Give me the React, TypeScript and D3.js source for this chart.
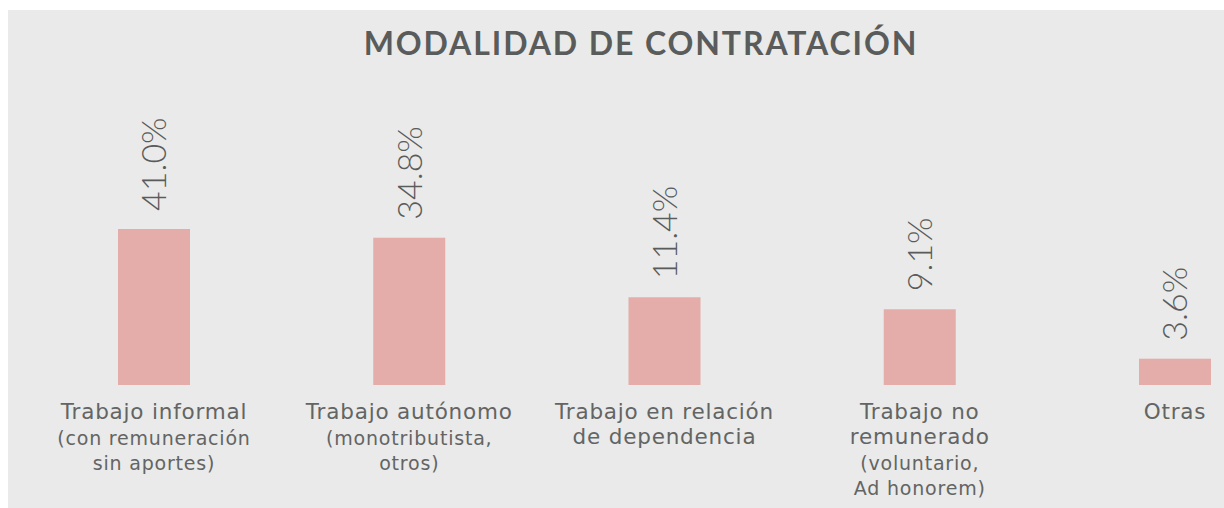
import React from 'react';
import * as d3 from 'd3';

// chart data
const categories = ['informal', 'autonomo', 'dependencia', 'noRemunerado', 'otras'];
const values = [41.0, 34.8, 11.4, 9.1, 3.6];
const mainLines = [
  ['Trabajo informal'],
  ['Trabajo autónomo'],
  ['Trabajo en relación', 'de dependencia'],
  ['Trabajo no', 'remunerado'],
  ['Otras'],
];
const subLines = [
  ['(con remuneración', 'sin aportes)'],
  ['(monotributista,', 'otros)'],
  [],
  ['(voluntario,', 'Ad honorem)'],
  [],
];
const title = 'MODALIDAD DE CONTRATACIÓN';

const W = 1224;
const H = 508;
const baseY = 385;
const barW = 72;
const textColor = '#5a5b5b';
const font = 'Lato, "Open Sans", sans-serif';
const labelFont = '"DejaVu Sans", sans-serif';

const App = () => {
  const x = d3.scalePoint<string>().domain(categories).range([154, 1175]);
  // infographic bars are not proportional; log scale matches them best
  const y = d3.scaleLog().domain([2.2, 41]).range([baseY, 229]);

  return (
    <svg width={W} height={H} style={{ position: 'absolute', left: 0, top: 0 }}>
      <rect x={8} y={10} width={W - 8} height={H - 10} fill="#e9eae9" />
      <text
        x={641}
        y={55}
        textAnchor="middle"
        fontFamily={font}
        fontWeight={700}
        fontSize={32}
        letterSpacing={1.9}
        fill={textColor}
      >
        {title}
      </text>
      {categories.map((c, i) => {
        const cx = x(c) as number;
        const top = y(values[i]);
        const mains = mainLines[i];
        const subs = subLines[i];
        return (
          <g key={c}>
            <rect x={cx - barW / 2} y={top} width={barW} height={baseY - top} fill="#e4adaa" />
            <text
              transform={`translate(${cx},${top - 18}) rotate(-90)`}
              dy="0.36em"
              fontFamily={font}
              fontWeight={300}
              fontSize={34}
              fill={textColor}
            >
              {d3.format('.1f')(values[i])}%
            </text>
            {mains.map((l, j) => (
              <text
                key={'m' + j}
                x={cx}
                y={419 + j * 25}
                textAnchor="middle"
                fontFamily={labelFont}
                fontSize={21.5}
                letterSpacing={0.8}
                fill="#636464"
              >
                {l}
              </text>
            ))}
            {subs.map((l, j) => (
              <text
                key={'s' + j}
                x={cx}
                y={420 + mains.length * 25 + j * 25}
                textAnchor="middle"
                fontFamily={labelFont}
                fontSize={19}
                letterSpacing={0.8}
                fill="#636464"
              >
                {l}
              </text>
            ))}
          </g>
        );
      })}
    </svg>
  );
};

export default App;
